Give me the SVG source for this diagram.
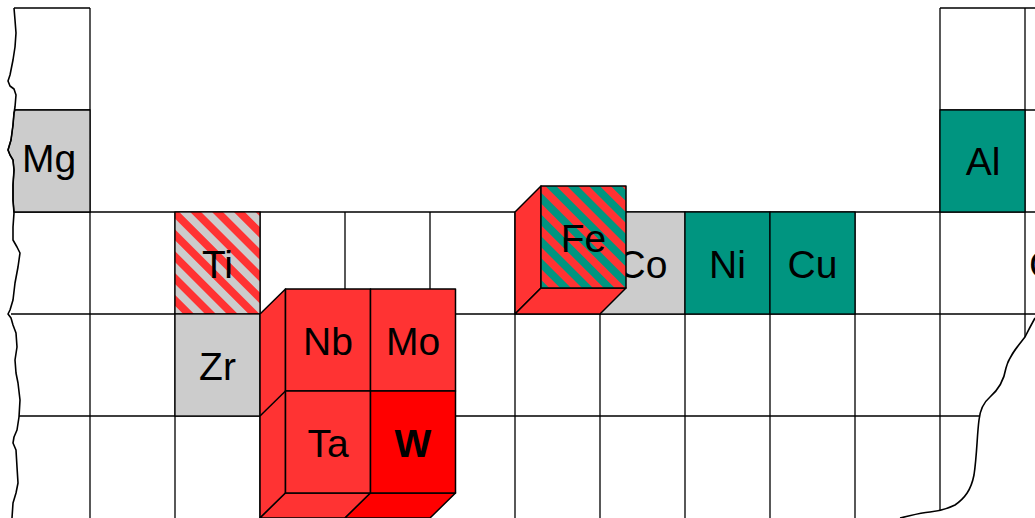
<svg xmlns="http://www.w3.org/2000/svg" width="1035" height="518" viewBox="0 0 1035 518">
<style>
.ln{stroke:#000;stroke-width:1.3;fill:none}
.cell{stroke:#000;stroke-width:1.3}
.face{stroke:#000;stroke-width:1.5;stroke-linejoin:round}
.t{font-family:"Liberation Sans",Arial,sans-serif;font-size:39px;fill:#000;text-anchor:middle}
.gr{fill:#CCCCCC}
.tl{fill:#009580}
.rd{fill:#FF3333}
.rw{fill:#FF0000}
</style>
<defs>
<pattern id="stTi" patternUnits="userSpaceOnUse" width="15.4" height="15.4" patternTransform="rotate(-45)">
<rect width="15.4" height="15.4" fill="#CCCCCC"/><rect width="7.7" height="15.4" fill="#FF3333"/>
</pattern>
<pattern id="stFe" patternUnits="userSpaceOnUse" width="15.4" height="15.4" patternTransform="rotate(-45)">
<rect width="15.4" height="15.4" fill="#009580"/><rect width="7.7" height="15.4" fill="#FF3333"/>
</pattern>
</defs>
<rect width="1035" height="518" fill="#fff"/>

<g id="grid">
<path class="ln" d="M14,8H90M940,8H1035M15,110H90M940,110H1035M14,212H1035M11,314H1035M19,416H980"/>
<path class="ln" d="M90,8V518M175,212V518M260,212V518M345,212V518M430,212V518M515,212V518M600,212V518M685,212V518M770,212V518M855,212V518M940,8V510M1025,8V337"/>
</g>

<g id="Mg">
<path class="cell gr" d="M15,110 L14,113 L13,125 L11,140 L8,150 L10,155 L13,160 L14,170 L13,185 L13,200 L14,212 L90,212 L90,110 Z"/>
<text class="t" x="49" y="172">Mg</text>
</g>
<g id="Al">
<rect class="cell tl" x="940" y="110" width="85" height="102"/>
<text class="t" x="983" y="175">Al</text>
</g>
<g id="Si"><text class="t" x="1034" y="178" style="text-anchor:start">Si</text></g>
<g id="Ge"><text class="t" x="1029" y="278" style="text-anchor:start">Ge</text></g>
<g id="Ti">
<rect class="cell" x="175" y="212" width="85" height="102" fill="url(#stTi)"/>
<text class="t" x="217.5" y="278">Ti</text>
</g>
<g id="Zr">
<rect class="cell gr" x="175" y="314" width="85" height="102"/>
<text class="t" x="217.5" y="380">Zr</text>
</g>
<g id="Co">
<rect class="cell gr" x="600" y="212" width="85" height="102"/>
<text class="t" x="642.5" y="278">Co</text>
</g>
<g id="Ni">
<rect class="cell tl" x="685" y="212" width="85" height="102"/>
<text class="t" x="727.5" y="278">Ni</text>
</g>
<g id="Cu">
<rect class="cell tl" x="770" y="212" width="85" height="102"/>
<text class="t" x="812.5" y="278">Cu</text>
</g>

<g id="Fe">
<polygon class="face rd" points="515,212 541,186 541,288 515,314"/>
<polygon class="face rd" points="515,314 541,288 626,288 600,314"/>
<rect class="face" x="541" y="186" width="85" height="102" fill="url(#stFe)"/>
<text class="t" x="583.5" y="252">Fe</text>
</g>

<g id="block">
<polygon class="face rd" points="260,314 285.5,289 285.5,493 260,518"/>
<line class="face" x1="260" y1="416" x2="285.5" y2="391"/>
<polygon class="face rd" points="260,518 285.5,493 370.5,493 345,518"/>
<polygon class="face rw" points="345,518 370.5,493 455.5,493 430,518"/>
</g>
<g id="Nb">
<rect class="face rd" x="285.5" y="289" width="85" height="102"/>
<text class="t" x="328" y="355">Nb</text>
</g>
<g id="Mo">
<rect class="face rd" x="370.5" y="289" width="85" height="102"/>
<text class="t" x="413" y="355">Mo</text>
</g>
<g id="Ta">
<rect class="face rd" x="285.5" y="391" width="85" height="102"/>
<text class="t" x="328" y="457">Ta</text>
</g>
<g id="W">
<rect class="face rw" x="370.5" y="391" width="85" height="102"/>
<text class="t" x="413" y="457" font-weight="bold">W</text>
</g>

<g id="edges">
<polyline class="ln" style="stroke-width:1.6;stroke-linejoin:round" points="14,8 15,20 16,33 15,47 13,60 10,75 8,81 10,86 14,89 16,95 15,107 14,113 13,125 11,140 8,150 10,155 13,160 14,170 13,185 13,200 14,213 13,227 13,240 17,247 20,253 18,267 15,283 13,300 10,310 8,314 11,318 13,325 16,333 17,347 15,360 16,373 18,383 20,400 19,417 17,430 14,437 13,443 16,450 17,467 18,483 16,493 13,503 12,518"/>
<path class="ln" style="stroke-width:1.6" d="M1035,318 C1030,327 1027,333 1025,337 C1018,346 1009,356 1006,368 C1004,380 998,390 990,397 C983,403 980,410 979,420 C977,435 977,455 974,475 C971,490 965,498 955,505 C947,509 940,511 930,512 C918,513 910,516 900,518"/>
</g>
</svg>
